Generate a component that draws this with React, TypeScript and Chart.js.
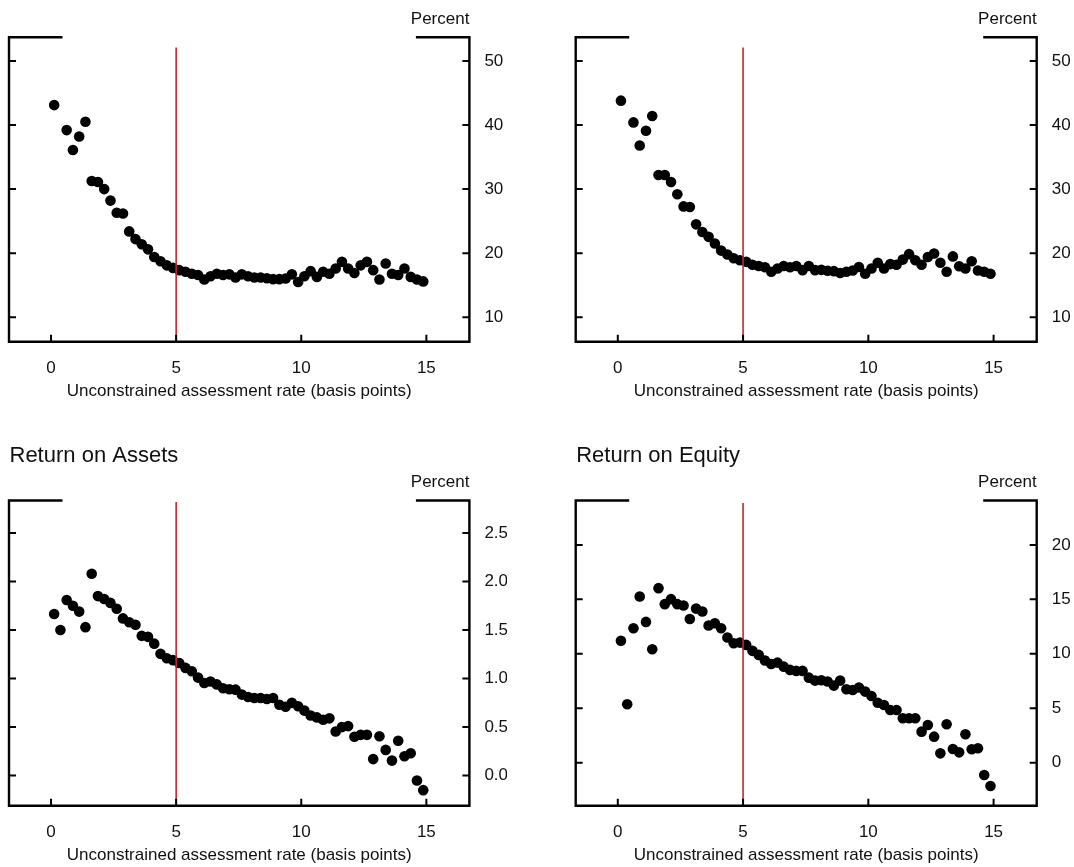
import React, { useEffect, useRef } from "react";
import { Chart, registerables } from "chart.js";

Chart.register(...registerables);

// ---------------- data ----------------
const binCenters = [
  0.125, 0.375, 0.625, 0.875, 1.125, 1.375, 1.625, 1.875, 2.125, 2.375,
  2.625, 2.875, 3.125, 3.375, 3.625, 3.875, 4.125, 4.375, 4.625, 4.875,
  5.125, 5.375, 5.625, 5.875, 6.125, 6.375, 6.625, 6.875, 7.125, 7.375,
  7.625, 7.875, 8.125, 8.375, 8.625, 8.875, 9.125, 9.375, 9.625, 9.875,
  10.125, 10.375, 10.625, 10.875, 11.125, 11.375, 11.625, 11.875, 12.125, 12.375,
  12.625, 12.875, 13.125, 13.375, 13.625, 13.875, 14.125, 14.375, 14.625, 14.875,
];

const topLeftValues = [
  43.1, null, 39.2, 36.1, 38.2, 40.5, 31.25, 31.1, 30.0, 28.2,
  26.3, 26.2, 23.4, 22.2, 21.4, 20.6, 19.4, 18.75, 18.1, 17.7,
  17.35, 17.1, 16.8, 16.6, 15.9, 16.4, 16.8, 16.6, 16.7, 16.2,
  16.7, 16.4, 16.2, 16.2, 16.1, 15.95, 15.95, 16.05, 16.7, 15.5,
  16.4, 17.2, 16.3, 17.1, 16.8, 17.6, 18.65, 17.6, 16.9, 18.1,
  18.65, 17.35, 15.9, 18.4, 16.8, 16.6, 17.6, 16.3, 15.9, 15.6,
];

const topRightValues = [
  43.8, null, 40.4, 36.8, 39.1, 41.4, 32.2, 32.2, 31.1, 29.2,
  27.3, 27.2, 24.5, 23.3, 22.55, 21.5, 20.4, 19.8, 19.2, 18.9,
  18.65, 18.2, 18.0, 17.8, 17.1, 17.6, 18.0, 17.8, 18.0, 17.35,
  18.0, 17.35, 17.4, 17.25, 17.2, 16.9, 17.1, 17.3, 17.85, 16.8,
  17.6, 18.5, 17.6, 18.3, 18.2, 19.0, 19.85, 18.9, 18.2, 19.4,
  19.95, 18.5, 17.1, 19.5, 17.96, 17.6, 18.75, 17.3, 17.1, 16.8,
];

const roaValues = [
  1.665, 1.5, 1.81, 1.75, 1.69, 1.53, 2.08, 1.85, 1.82, 1.78,
  1.72, 1.62, 1.58, 1.555, 1.44, 1.43, 1.36, 1.255, 1.21, 1.19,
  1.16, 1.11, 1.075, 1.01, 0.955, 0.97, 0.94, 0.9, 0.89, 0.886,
  0.835, 0.81, 0.8, 0.8, 0.79, 0.8, 0.73, 0.71, 0.75, 0.715,
  0.67, 0.62, 0.6, 0.575, 0.59, 0.455, 0.5, 0.51, 0.4, 0.42,
  0.42, 0.17, 0.405, 0.265, 0.155, 0.36, 0.2, 0.23, -0.05, -0.15,
];

const roeValues = [
  11.2, 5.37, 12.35, 15.26, 12.93, 10.42, 16.03, 14.56, 15.02, 14.56,
  14.43, 13.2, 14.15, 13.88, 12.6, 12.8, 12.35, 11.5, 10.97, 11.03,
  10.82, 10.27, 9.9, 9.38, 9.07, 9.19, 8.82, 8.52, 8.43, 8.43,
  7.81, 7.54, 7.57, 7.45, 7.08, 7.54, 6.75, 6.68, 6.9, 6.53,
  6.13, 5.5, 5.3, 4.84, 4.84, 4.08, 4.08, 4.08, 2.85, 3.46,
  2.39, 0.86, 3.53, 1.26, 0.95, 2.61, 1.23, 1.32, -1.13, -2.14,
];

const xTicks = [0, 5, 10, 15];
const xTickLabels = ["0", "5", "10", "15"];
const xRange = [-1.68, 16.72];

const topYTicks = [10, 20, 30, 40, 50];
const topYTickLabels = ["10", "20", "30", "40", "50"];
const topYRange = [6.19, 53.68];

const roaYTicks = [0, 0.5, 1, 1.5, 2, 2.5];
const roaYTickLabels = ["0.0", "0.5", "1.0", "1.5", "2.0", "2.5"];
const roaYRange = [-0.31, 2.835];

const roeYTicks = [0, 5, 10, 15, 20];
const roeYTickLabels = ["0", "5", "10", "15", "20"];
const roeYRange = [-3.95, 24.08];

const thresholdX = 5;
const thresholdTops = [52.1, 52.1, 2.82, 23.85];

const panelTitles = ["", "", "Return on Assets", "Return on Equity"];
const xAxisTitle = "Unconstrained assessment rate (basis points)";
const unitLabel = "Percent";

// ---------------- rendering ----------------
const FONT = "'Liberation Sans', Arial, Helvetica, sans-serif";
const TEXT = "#111111";

type PanelProps = {
  values: (number | null)[];
  yTicks: number[];
  yTickLabels: string[];
  yRange: number[];
  redTop: number;
  title: string;
  left: number;
  top: number;
  width: number;
  height: number;
  padLeft: number;
  padTop: number;
  areaRight: number;
  areaBottom: number;
  xTitlePadBottom: number;
  titleY: number;
};

const framePlugin = {
  id: "fedFrame",
  afterDraw(chart: any, _args: any, opts: any) {
    const { ctx, chartArea, scales } = chart;
    const { left, right, top, bottom } = chartArea;
    const seg = 53.5;
    ctx.save();
    ctx.strokeStyle = "#000";
    ctx.lineWidth = 2.4;
    ctx.lineJoin = "miter";
    ctx.lineCap = "butt";
    ctx.beginPath();
    ctx.moveTo(left + seg, top);
    ctx.lineTo(left, top);
    ctx.lineTo(left, bottom);
    ctx.lineTo(right, bottom);
    ctx.lineTo(right, top);
    ctx.lineTo(right - seg, top);
    ctx.stroke();

    ctx.lineWidth = 2;
    ctx.beginPath();
    for (const v of opts.yTicks) {
      const y = scales.y.getPixelForValue(v);
      ctx.moveTo(left, y);
      ctx.lineTo(left + 7, y);
      ctx.moveTo(right, y);
      ctx.lineTo(right - 7, y);
    }
    for (const v of opts.xTicks) {
      const x = scales.x.getPixelForValue(v);
      ctx.moveTo(x, bottom);
      ctx.lineTo(x, bottom - 7);
    }
    ctx.stroke();

    ctx.fillStyle = TEXT;
    ctx.font = `17px ${FONT}`;
    ctx.textAlign = "right";
    ctx.textBaseline = "middle";
    ctx.fillText(opts.unit, right, top - 18);

    if (opts.title) {
      ctx.font = `22px ${FONT}`;
      ctx.textAlign = "left";
      ctx.fillText(opts.title, left + 0.5, opts.titleY);
    }
    ctx.restore();
  },
};

function Panel(p: PanelProps) {
  const ref = useRef<HTMLCanvasElement | null>(null);
  useEffect(() => {
    if (!ref.current) return;
    const points = binCenters.map((x, i) => ({ x, y: p.values[i] }));
    const chart = new Chart(ref.current, {
      type: "scatter",
      data: {
        datasets: [
          {
            label: "threshold",
            data: [
              { x: thresholdX, y: p.redTop },
              { x: thresholdX, y: p.yRange[0] },
            ],
            showLine: true,
            borderColor: "#c1272d",
            borderWidth: 1.6,
            pointRadius: 0,
            order: 0,
          } as any,
          {
            label: "banks",
            data: points as any,
            backgroundColor: "#000",
            borderColor: "#000",
            borderWidth: 0,
            pointRadius: 5.3,
            pointHoverRadius: 5.3,
            order: 1,
          },
        ],
      },
      options: {
        animation: false,
        responsive: false,
        events: [],
        layout: {
          padding: { left: p.padLeft, top: p.padTop, right: 0, bottom: 0 },
        },
        plugins: {
          legend: { display: false },
          tooltip: { enabled: false },
          fedFrame: {
            yTicks: p.yTicks,
            xTicks,
            unit: unitLabel,
            title: p.title,
            titleY: p.titleY,
          },
        } as any,
        scales: {
          x: {
            type: "linear",
            position: "bottom",
            min: xRange[0],
            max: xRange[1],
            grid: { display: false, drawTicks: false },
            border: { display: false },
            afterBuildTicks: (s: any) => {
              s.ticks = xTicks.map((v) => ({ value: v }));
            },
            afterFit: (s: any) => {
              s.height = p.height - p.areaBottom;
            },
            ticks: {
              padding: 16,
              color: TEXT,
              font: { family: FONT, size: 17 },
              maxRotation: 0,
              callback: (_v: any, i: number) => xTickLabels[i],
            },
            title: {
              display: true,
              text: xAxisTitle,
              color: TEXT,
              font: { family: FONT, size: 17 },
              padding: { top: 0, bottom: p.xTitlePadBottom },
            },
          },
          y: {
            type: "linear",
            position: "right",
            min: p.yRange[0],
            max: p.yRange[1],
            grid: { display: false, drawTicks: false },
            border: { display: false },
            afterBuildTicks: (s: any) => {
              s.ticks = p.yTicks.map((v) => ({ value: v }));
            },
            afterFit: (s: any) => {
              s.width = p.width - p.areaRight;
            },
            ticks: {
              padding: 15,
              color: TEXT,
              font: { family: FONT, size: 17 },
              callback: (_v: any, i: number) => p.yTickLabels[i],
            },
          },
        },
      },
      plugins: [framePlugin],
    });
    return () => chart.destroy();
  }, []);
  return (
    <canvas
      ref={ref}
      width={p.width}
      height={p.height}
      style={{
        position: "absolute",
        left: p.left,
        top: p.top,
        width: p.width,
        height: p.height,
      }}
    />
  );
}

export default function App() {
  const W = 507;
  const topRow = { top: 0, height: 432, padTop: 37.3, areaBottom: 341.7, xTitlePadBottom: 30.1, titleY: 0 };
  const botRow = { top: 432, height: 435, padTop: 68.5, areaBottom: 373.7, xTitlePadBottom: 1.4, titleY: 24 };
  const leftCol = { left: 0, padLeft: 9, areaRight: 469.4 };
  const rightCol = { left: 567, padLeft: 8.7, areaRight: 469.7 };
  return (
    <div
      style={{
        position: "absolute",
        left: 0,
        top: 0,
        width: 1074,
        height: 867,
        overflow: "hidden",
        background: "#fff",
      }}
    >
      <Panel
        values={topLeftValues}
        yTicks={topYTicks}
        yTickLabels={topYTickLabels}
        yRange={topYRange}
        redTop={thresholdTops[0]}
        title={panelTitles[0]}
        width={W}
        {...topRow}
        {...leftCol}
      />
      <Panel
        values={topRightValues}
        yTicks={topYTicks}
        yTickLabels={topYTickLabels}
        yRange={topYRange}
        redTop={thresholdTops[1]}
        title={panelTitles[1]}
        width={W}
        {...topRow}
        {...rightCol}
      />
      <Panel
        values={roaValues}
        yTicks={roaYTicks}
        yTickLabels={roaYTickLabels}
        yRange={roaYRange}
        redTop={thresholdTops[2]}
        title={panelTitles[2]}
        width={W}
        {...botRow}
        {...leftCol}
      />
      <Panel
        values={roeValues}
        yTicks={roeYTicks}
        yTickLabels={roeYTickLabels}
        yRange={roeYRange}
        redTop={thresholdTops[3]}
        title={panelTitles[3]}
        width={W}
        {...botRow}
        {...rightCol}
      />
    </div>
  );
}
